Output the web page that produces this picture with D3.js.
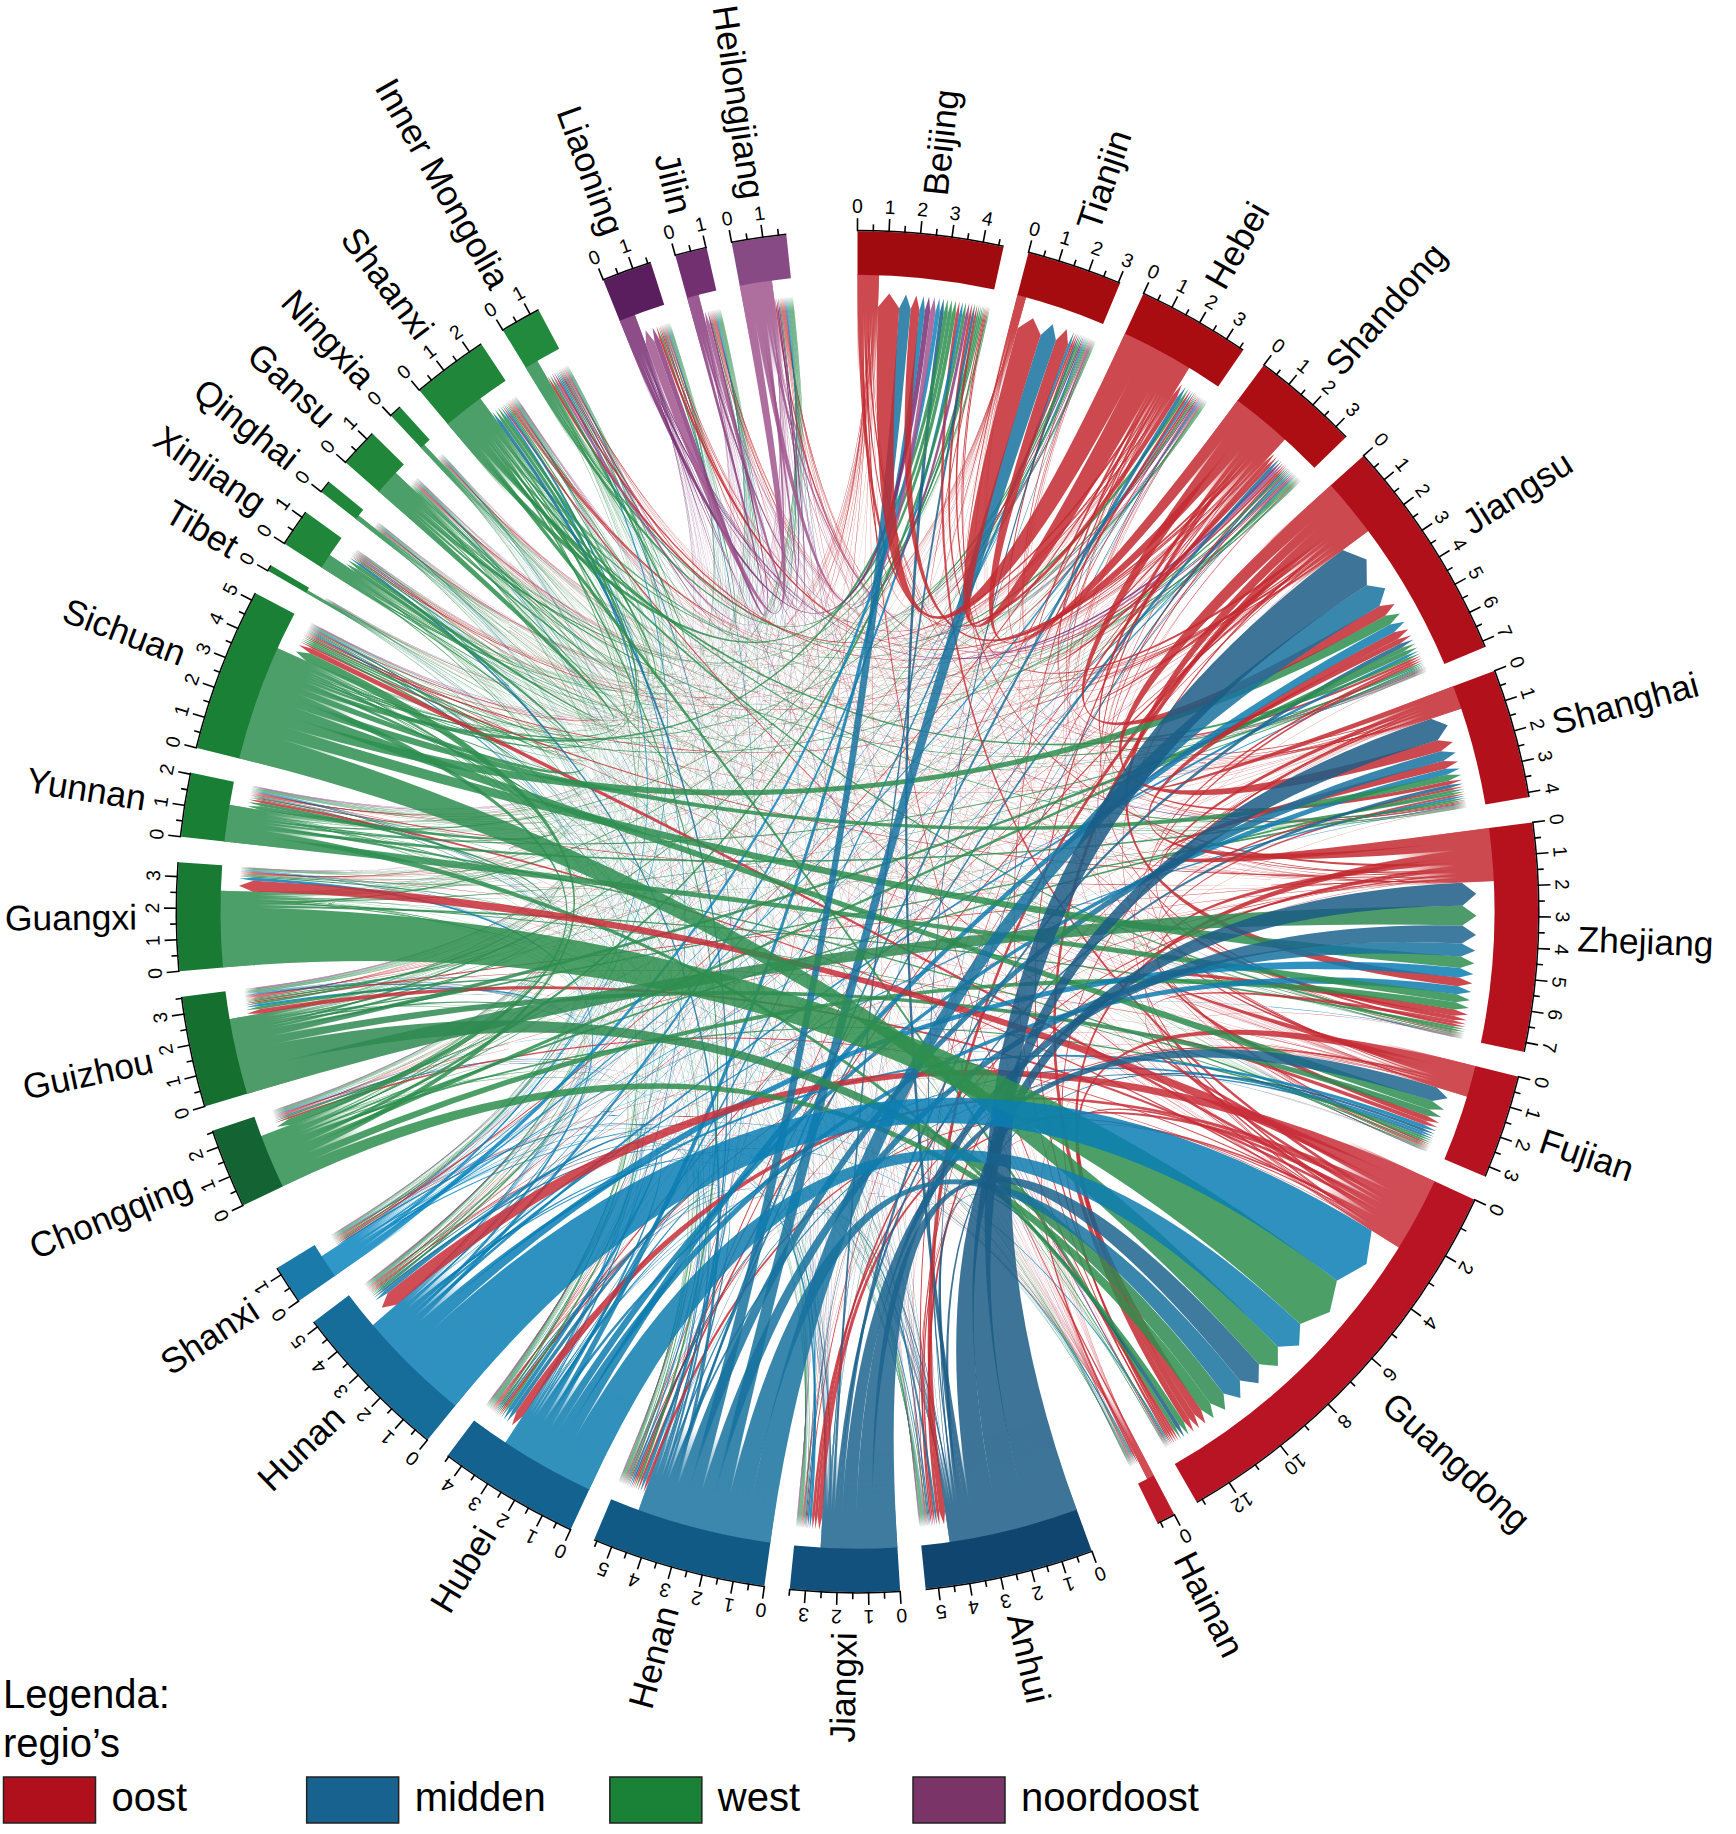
<!DOCTYPE html>
<html>
<head>
<meta charset="utf-8">
<script src="https://cdn.jsdelivr.net/npm/d3@7"></script>
<style>
body { margin: 0; background: #fff; }
text { font-family: "Liberation Sans", Arial, sans-serif; fill: #000; }
</style>
</head>
<body>
<script>
var sectors = ["Beijing","Tianjin","Hebei","Shandong","Jiangsu","Shanghai","Zhejiang","Fujian","Guangdong","Hainan",
  "Anhui","Jiangxi","Henan","Hubei","Hunan","Shanxi",
  "Chongqing","Guizhou","Guangxi","Yunnan","Sichuan","Tibet","Xinjiang","Qinghai","Gansu","Ningxia","Shaanxi","Inner Mongolia",
  "Liaoning","Jilin","Heilongjiang"];

// axis length of every sector
var sectorTotals = [4.66,3.06,3.63,3.46,7.2,4.15,7.3,3.33,13.2,0.6,
  5.41,3.5,5.6,4.55,5.2,1.25,
  2.55,3.55,3.46,2.05,5.25,0.2,1.2,0.4,1.25,0.4,2.45,1.3,
  1.6,1.02,1.75];

// part of the sector taken by the outgoing band, the rest is arrows coming in
var sectorOut = [0.73,0.3,2.46,2.07,2.0,0.8,1.8,1.07,2.55,0.25,
  4.44,2.6,4.6,3.25,3.9,0.8,
  1.85,2.6,2.6,1.25,3.95,0.1,0.5,0.15,0.85,0.15,1.4,0.45,
  0.55,0.4,1.1];

var sectorColors = ["#a00b0f","#a50c10","#a90c11","#ad0e14","#b0101a","#b2111c","#b5121e","#b71220","#b91424","#bd1a2a",
  "#0f456f","#12507e","#125a86","#14628f","#166d99","#1a7bab",
  "#136432","#15702f","#187a33","#197f35","#198035","#1d8538","#1f863a","#1f863a","#1f863a","#1f863a","#1f863a","#228a3c",
  "#5a1e5e","#723070","#884a85"];

// links are brighter than the ring, these go under linkOpacity
var linkColors = ["#c32a30","#c32a30","#c32a30","#c32a30","#c32a30","#c32a30","#c32a30","#c62c34","#c82e38","#c82e38",
  "#1b5c85","#1c648e","#18729f","#0e7daf","#0a7eb4","#0a86bf",
  "#2e8e4e","#2e8a50","#2e8e4e","#2e8e50","#2e8e50","#2e8e4e","#2e8e4e","#2e8e4e","#2e8e4e","#2e8e4e","#2e8e4e","#2e8e4e",
  "#782e73","#8b3d7f","#a0568e"];
var linkOpacity = 0.85;

// hundredths, row = from, column = to, same order as sectors
var flowRows = [
 [ 0, 6,14, 5, 3, 4, 2, 1, 5, 1, 1, 1, 2, 1, 1, 2, 1, 1, 1, 1, 2, 1, 1, 1, 1, 1, 1, 3, 3, 1, 1],
 [ 4, 0, 5, 2, 1, 1, 1, 1, 1, 1, 1, 1, 1, 1, 1, 1, 1, 1, 1, 1, 1, 1, 1, 1, 1, 1, 1, 1, 1, 1, 1],
 [79,75, 0, 8, 8, 4, 3, 2, 5, 1, 1, 1, 4, 1, 1, 5, 1, 1, 1, 1, 1, 1, 3, 1, 1, 1, 2, 8, 4, 1, 1],
 [33,40, 7, 0,40,15, 8, 3, 8, 1, 4, 1, 4, 1, 1, 2, 1, 1, 1, 1, 1, 1, 5, 1, 1, 1, 2, 6, 8, 2, 3],
 [10, 5, 3,10, 0,45,30, 6,22, 1,16, 3, 6, 3, 2, 1, 1, 1, 1, 1, 3, 1, 2, 1, 1, 1, 2, 1, 2, 1, 1],
 [ 4, 2, 1, 2,18, 0,15, 3, 8, 1, 4, 1, 1, 1, 1, 1, 1, 1, 1, 1, 2, 1, 1, 1, 1, 1, 1, 1, 1, 1, 1],
 [ 8, 3, 2, 4,28,32, 0,20,24, 2, 8, 8, 3, 3, 2, 1, 2, 3, 1, 2, 4, 1, 3, 1, 1, 1, 1, 1, 1, 1, 1],
 [ 4, 1, 1, 1, 8,10,22, 0,30, 1, 2, 8, 1, 1, 2, 1, 1, 2, 1, 1, 2, 1, 1, 1, 1, 1, 1, 1, 1, 1, 1],
 [12, 2, 2, 3, 8, 8,12,16, 0,12, 5,14, 8,16,38, 2, 6,10,38, 6,12, 1, 2, 1, 1, 1, 4, 1, 2, 1, 1],
 [ 1, 1, 1, 1, 1, 1, 1, 1, 9, 0, 1, 1, 1, 1, 1, 1, 1, 1, 1, 1, 1, 1, 1, 1, 1, 1, 1, 1, 1, 1, 1],
 [15, 5, 2, 4,150,90,80,10,15, 1, 0, 3, 4, 2, 1, 1, 1, 1, 1, 1, 1, 1, 2, 1, 1, 1, 1, 1, 1, 1, 1],
 [10, 2, 1, 2,15,14,62,55,90, 1, 3, 0, 1, 3, 5, 1, 1, 1, 1, 1, 1, 1, 1, 1, 1, 1, 1, 1, 1, 1, 1],
 [43,50,10, 8,85,40,45, 8,75, 1, 6, 2, 0, 8, 3, 6, 1, 1, 1, 2, 2, 1,12, 2, 2, 2, 8, 4, 3, 1, 1],
 [20, 8, 2, 3,30,25,28,10,115,2, 3, 5, 8, 0,10, 1, 3, 1, 1, 1, 2, 1, 3, 1, 1, 1, 4, 1, 1, 1, 1],
 [12, 3, 2, 2,10, 8,33,14,220,5, 1, 7, 2, 8, 0, 1, 1, 5,10, 1, 1, 1, 2, 1, 1, 1, 1, 1, 1, 1, 1],
 [16, 3, 6, 3, 4, 2, 2, 1, 4, 1, 1, 1, 4, 1, 1, 0, 1, 1, 1, 1, 1, 1, 1, 1, 1, 1, 5, 5, 1, 1, 1],
 [12, 3, 1, 2,15,10,25, 8,40, 1, 1, 1, 1, 4, 2, 1, 0, 6, 1, 3,20, 1, 4, 1, 1, 1, 3, 1, 1, 1, 1],
 [ 6, 1, 1, 2,15, 8,68,25,60, 1, 1, 1, 1, 1, 5, 1, 5, 0, 5, 8, 2, 1, 1, 1, 1, 1, 1, 1, 1, 1, 1],
 [ 6, 1, 1, 1, 4, 2, 8, 5,205,4, 1, 1, 1, 1, 3, 1, 1, 2, 0, 2, 1, 1, 1, 1, 1, 1, 1, 1, 1, 1, 1],
 [ 5, 1, 1, 1, 6,10,28, 8,20, 1, 1, 1, 1, 1, 1, 1, 1, 3, 3, 0, 4, 1, 1, 1, 1, 1, 1, 1, 1, 1, 1],
 [15, 5, 3, 4,35,25,40,35,93, 3, 2, 2, 2, 3, 2, 2,20, 4, 2,10, 0, 5,20, 3, 3, 2, 8, 3, 2, 1, 1],
 [ 1, 1, 1, 1, 1, 1, 1, 1, 1, 1, 1, 1, 1, 1, 1, 1, 1, 1, 1, 1, 3, 0, 1, 1, 1, 1, 1, 1, 1, 1, 1],
 [ 4, 1, 1, 2, 3, 2, 2, 1, 2, 1, 1, 1, 3, 1, 1, 1, 1, 1, 1, 1, 4, 1, 0, 1, 4, 1, 3, 1, 1, 1, 1],
 [ 1, 1, 1, 1, 1, 1, 1, 1, 1, 1, 1, 1, 1, 1, 1, 1, 1, 1, 1, 1, 1, 1, 2, 0, 3, 1, 1, 1, 1, 1, 1],
 [ 7, 3, 1, 2, 5, 2, 3, 1, 4, 1, 1, 1, 1, 1, 1, 1, 1, 1, 1, 1, 2, 1,20, 2, 0, 2, 8, 4, 1, 1, 1],
 [ 1, 1, 1, 1, 1, 1, 1, 1, 1, 1, 1, 1, 1, 1, 1, 1, 1, 1, 1, 1, 1, 1, 1, 1, 2, 0, 1, 2, 1, 1, 1],
 [15, 5, 3, 3,10, 6, 8, 2,12, 1, 1, 1, 6, 2, 1, 4, 1, 1, 1, 1, 4, 1, 6, 1, 4, 3, 0, 8, 1, 1, 1],
 [15, 3, 8, 2, 1, 1, 1, 1, 1, 1, 1, 1, 1, 1, 1, 2, 1, 1, 1, 1, 1, 1, 1, 1, 1, 2, 2, 0, 5, 2, 2],
 [20, 4, 3, 6, 3, 3, 1, 1, 3, 1, 1, 1, 1, 1, 1, 1, 1, 1, 1, 1, 1, 1, 1, 1, 1, 1, 1, 4, 0, 5, 3],
 [12, 2, 2, 3, 1, 1, 1, 1, 2, 1, 1, 1, 1, 1, 1, 1, 1, 1, 1, 1, 1, 1, 1, 1, 1, 1, 1, 3,18, 0, 3],
 [20, 3, 2, 6, 2, 2, 1, 1, 2, 2, 1, 1, 1, 1, 1, 1, 1, 1, 1, 1, 1, 1, 1, 1, 1, 1, 1, 8,30,10, 0]
];

var legendLabels = ["oost","midden","west","noordoost"];
var legendColors = ["#b0101c","#17628f","#1a8236","#7a3468"];

var width = 1736,
    height = 1834,
    cx = 857.5,
    cy = 911.7,
    outerR = 680.5,
    innerR = 637,
    arrowR = 619,
    stubR = 540,
    smallGap = 2.15,
    bigGap = 6,
    // sectors that end a region get the wider gap
    regionEnds = ["Hainan","Shanxi","Inner Mongolia","Heilongjiang"];

var rad = Math.PI / 180;

var svg = d3.select("body").append("svg")
    .attr("width", width)
    .attr("height", height);

var g = svg.append("g")
    .attr("transform", "translate(" + cx + "," + cy + ")");

// sector angles
var gaps = sectors.map(function(s) { return regionEnds.indexOf(s) >= 0 ? bigGap : smallGap; });
var perUnit = (360 - d3.sum(gaps)) / d3.sum(sectorTotals);

var angle = 0;
var layout = sectors.map(function(name, i) {
    var a0 = angle * rad,
        a1 = (angle + sectorTotals[i] * perUnit) * rad;
    angle += sectorTotals[i] * perUnit + gaps[i];
    return {
        name: name,
        index: i,
        startAngle: a0,
        endAngle: a1,
        total: sectorTotals[i],
        scale: d3.scaleLinear().domain([0, sectorTotals[i]]).range([a0, a1])
    };
});

// links: outgoing slots first in a sector, then incoming, both biggest first
var links = [];
flowRows.forEach(function(row, from) {
    row.forEach(function(v, to) {
        if (v > 0) links.push({from: from, to: to, value: v});
    });
});

layout.forEach(function(s, i) {
    var outs = links.filter(function(l) { return l.from === i; }).sort(function(a, b) { return b.value - a.value; });
    var ins = links.filter(function(l) { return l.to === i; }).sort(function(a, b) { return b.value - a.value; });
    var outScale = d3.scaleLinear().domain([0, d3.sum(outs, function(l) { return l.value; })]).range([0, sectorOut[i]]);
    var inScale = d3.scaleLinear().domain([0, d3.sum(ins, function(l) { return l.value; })]).range([sectorOut[i], s.total]);
    var run = 0;
    outs.forEach(function(l) {
        l.source = {startAngle: s.scale(outScale(run)), endAngle: s.scale(outScale(run + l.value)), radius: innerR + 0.5};
        run += l.value;
    });
    run = 0;
    ins.forEach(function(l) {
        l.target = {startAngle: s.scale(inScale(run)), endAngle: s.scale(inScale(run + l.value)), radius: arrowR};
        run += l.value;
    });
});

var ribbon = d3.ribbonArrow().headRadius(14);

g.append("g").selectAll("path")
    .data(links.slice().sort(function(a, b) { return a.value - b.value; }))
    .enter().append("path")
    .attr("d", ribbon)
    .attr("fill", function(d) { return linkColors[d.from]; })
    .attr("fill-opacity", linkOpacity);

// the thin outgoing links leave hairline seams near the ring,
// cover them with the flat band colour and fade it out towards the centre
var defs = svg.append("defs");

var fade = defs.append("radialGradient")
    .attr("id", "stubFade")
    .attr("gradientUnits", "userSpaceOnUse")
    .attr("cx", 0).attr("cy", 0).attr("r", innerR);
fade.append("stop").attr("offset", stubR / innerR).attr("stop-color", "#000");
fade.append("stop").attr("offset", 600 / innerR).attr("stop-color", "#fff");

defs.append("mask")
    .attr("id", "stubMask")
    .attr("maskUnits", "userSpaceOnUse")
    .attr("x", -cx).attr("y", -cy).attr("width", width).attr("height", height)
    .append("rect")
    .attr("x", -cx).attr("y", -cy).attr("width", width).attr("height", height)
    .attr("fill", "url(#stubFade)");

g.append("g")
    .attr("mask", "url(#stubMask)")
    .selectAll("path")
    .data(layout)
    .enter().append("path")
    .attr("d", function(d) {
        return d3.arc()({
            innerRadius: stubR,
            outerRadius: innerR + 0.5,
            startAngle: d.startAngle,
            endAngle: d.scale(sectorOut[d.index])
        });
    })
    .attr("fill", function(d) {
        return d3.interpolateRgb("#fff", linkColors[d.index])(linkOpacity);
    });

// ring
var arc = d3.arc().innerRadius(innerR).outerRadius(outerR);

var sector = g.append("g").selectAll("g")
    .data(layout)
    .enter().append("g");

sector.append("path")
    .attr("d", arc)
    .attr("fill", function(d) { return sectorColors[d.index]; });

// outer axis line
sector.append("path")
    .attr("d", d3.arc().innerRadius(outerR).outerRadius(outerR + 1.5))
    .attr("fill", "#000");

function tickData(d) {
    var minor = d.total > 10 ? 1 : 0.5,
        major = d.total > 10 ? 2 : 1;
    return d3.range(0, d.total + 1e-6, minor).map(function(v) {
        return {value: v, major: v % major === 0, a: d.scale(v) / rad};
    });
}

var tick = sector.selectAll("g.tick")
    .data(tickData)
    .enter().append("g")
    .attr("class", "tick")
    .attr("transform", function(t) { return "rotate(" + t.a + ")"; });

tick.append("line")
    .attr("y1", -outerR)
    .attr("y2", function(t) { return -outerR - (t.major ? 13 : 7); })
    .attr("stroke", "#000")
    .attr("stroke-width", 1.6);

tick.filter(function(t) { return t.major; }).append("text")
    .attr("y", -outerR - 18)
    .attr("text-anchor", "middle")
    .attr("font-size", 19.5)
    .text(function(t) { return t.value; });

// province names, radial and never upside down
sector.append("text")
    .attr("font-size", 35.5)
    .attr("dy", "0.35em")
    .attr("text-anchor", function(d) {
        return (d.startAngle + d.endAngle) / 2 < Math.PI ? "start" : "end";
    })
    .attr("transform", function(d) {
        var a = (d.startAngle + d.endAngle) / 2 / rad;
        var r = outerR + 40;
        return a < 180
            ? "rotate(" + (a - 90) + ") translate(" + r + ",0)"
            : "rotate(" + (a + 90) + ") translate(" + (-r) + ",0)";
    })
    .text(function(d) { return d.name; });

// legend
var legend = svg.append("g");

legend.append("text").attr("x", 3).attr("y", 1708).attr("font-size", 40).text("Legenda:");
legend.append("text").attr("x", 3).attr("y", 1757).attr("font-size", 40).text("regio\u2019s");

var legendX = d3.scaleLinear().domain([0, 3]).range([3.5, 913]);

legend.selectAll("rect")
    .data(legendLabels)
    .enter().append("rect")
    .attr("x", function(d, i) { return legendX(i); })
    .attr("y", 1777)
    .attr("width", 92)
    .attr("height", 46)
    .attr("fill", function(d, i) { return legendColors[i]; })
    .attr("stroke", "#222")
    .attr("stroke-width", 1.5);

legend.selectAll("text.item")
    .data(legendLabels)
    .enter().append("text")
    .attr("class", "item")
    .attr("x", function(d, i) { return legendX(i) + 108; })
    .attr("y", 1811)
    .attr("font-size", 40)
    .text(function(d) { return d; });
</script>
</body>
</html>
